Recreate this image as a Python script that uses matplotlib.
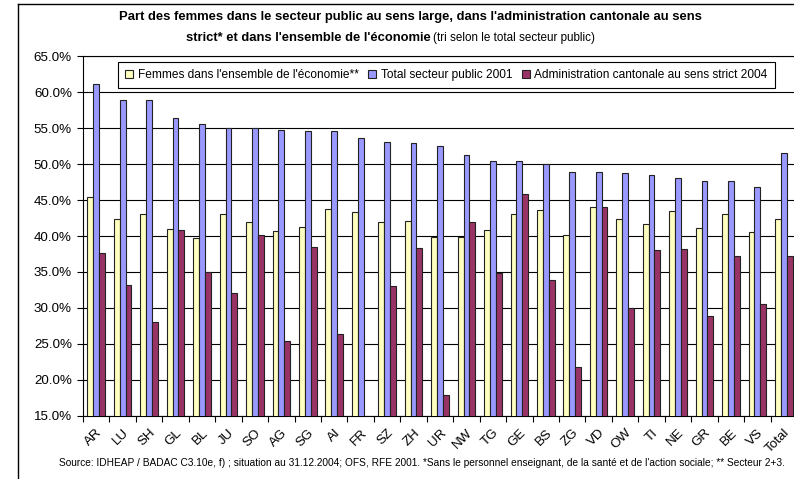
import matplotlib
matplotlib.use("Agg")
import matplotlib.pyplot as plt
import numpy as np
from matplotlib.lines import Line2D
from matplotlib.ticker import FuncFormatter

plt.rcParams['font.family'] = ['Liberation Sans', 'DejaVu Sans']

categories = ["AR", "LU", "SH", "GL", "BL", "JU", "SO", "AG", "SG", "AI", "FR", "SZ", "ZH", "UR",
              "NW", "TG", "GE", "BS", "ZG", "VD", "OW", "TI", "NE", "GR", "BE", "VS", "Total"]

femmes_economie = [45.4, 42.4, 43.1, 41.0, 39.7, 43.1, 41.9, 40.7, 41.2, 43.8, 43.3, 41.9, 42.1, 39.9,
                   39.9, 40.9, 43.1, 43.6, 40.2, 44.0, 42.3, 41.7, 43.5, 41.1, 43.1, 40.5, 42.3]
total_public_2001 = [61.2, 58.9, 58.9, 56.4, 55.6, 55.0, 55.0, 54.8, 54.6, 54.6, 53.6, 53.1, 52.9, 52.5,
                     51.3, 50.5, 50.5, 50.0, 48.9, 48.9, 48.7, 48.5, 48.1, 47.7, 47.7, 46.8, 51.5]
admin_cantonale_2004 = [37.7, 33.2, 28.0, 40.8, 35.0, 32.0, 40.2, 25.4, 38.4, 26.4, np.nan, 33.0, 38.3, 17.9,
                        41.9, 34.9, 45.9, 33.9, 21.8, 44.0, 30.0, 38.1, 38.2, 28.8, 37.2, 30.5, 37.2]

series_labels = ["Femmes dans l'ensemble de l'économie**", "Total secteur public 2001",
                 "Administration cantonale au sens strict 2004"]
colors = ["#FFFFC0", "#9999FF", "#993366"]

W, H = 794, 479
fig = plt.figure(figsize=(W / 100, H / 100), dpi=100)
ax = fig.add_axes([83 / W, 1 - 415.6 / H, (797 - 83) / W, (415.6 - 56.4) / H])

n = len(categories)
x = np.arange(n)
bw = 0.22
for k, (vals, c, lab) in enumerate(zip([femmes_economie, total_public_2001, admin_cantonale_2004],
                                       colors, series_labels)):
    ax.bar(x + (k - 1) * bw, vals, width=bw, color=c, edgecolor="#222222", linewidth=0.8,
           label=lab, zorder=3)

ax.set_xlim(-0.5, n - 0.5)
ax.set_ylim(15, 65)
ax.set_yticks(np.arange(15, 66, 5))
ax.yaxis.set_major_formatter(FuncFormatter(lambda v, p: f"{v:.1f}%"))
ax.yaxis.grid(True, color="black", linewidth=0.8, zorder=0)
ax.set_axisbelow(True)

ax.set_xticks(np.arange(n + 1) - 0.5)
ax.set_xticklabels([])
ax.set_xticks(x, minor=True)
ax.set_xticklabels(categories, minor=True, rotation=45, ha="right", va="top",
                   rotation_mode="anchor", fontsize=9.6)
ax.tick_params(axis="x", which="major", length=4, width=0.8, direction="out")
ax.tick_params(axis="x", which="minor", length=0, pad=8)
ax.tick_params(axis="y", length=4, width=0.8, direction="out", labelsize=9.6, pad=4)
for s in ax.spines.values():
    s.set_color("black")
    s.set_linewidth(0.8)

leg = fig.legend(loc="upper left", bbox_to_anchor=(118 / W, 1 - 62 / H), ncol=3,
                 fontsize=8.6, frameon=True, fancybox=False, edgecolor="black", framealpha=1,
                 handlelength=0.65, handleheight=0.65, handletextpad=0.4, columnspacing=0.8,
                 borderpad=0.6, borderaxespad=0)
leg.get_frame().set_linewidth(0.8)

title_fam = ['Liberation Sans']
fig.text(410 / W, 1 - 17 / H,
         "Part des femmes dans le secteur public au sens large, dans l'administration cantonale au sens",
         ha="center", va="center", fontsize=9.4, fontweight="bold", family=title_fam)
fig.text(431 / W, 1 - 38 / H, "strict* et dans l'ensemble de l'économie",
         ha="right", va="center", fontsize=9.4, fontweight="bold", family=title_fam)
fig.text(433 / W, 1 - 38 / H, "(tri selon le total secteur public)",
         ha="left", va="center", fontsize=8.4, family=title_fam)

fig.text(422 / W, 1 - 463 / H,
         "Source: IDHEAP / BADAC C3.10e, f) ; situation au 31.12.2004; OFS, RFE 2001. "
         "*Sans le personnel enseignant, de la santé et de l'action sociale; ** Secteur 2+3.",
         ha="center", va="center", fontsize=7.3, family=title_fam)

fig.add_artist(Line2D([18 / W, 18 / W], [0, 1 - 4 / H], transform=fig.transFigure,
                      color="black", linewidth=1))
fig.add_artist(Line2D([18 / W, 1], [1 - 4 / H, 1 - 4 / H], transform=fig.transFigure,
                      color="black", linewidth=1))

fig.savefig("out.png", dpi=100, facecolor="white")
